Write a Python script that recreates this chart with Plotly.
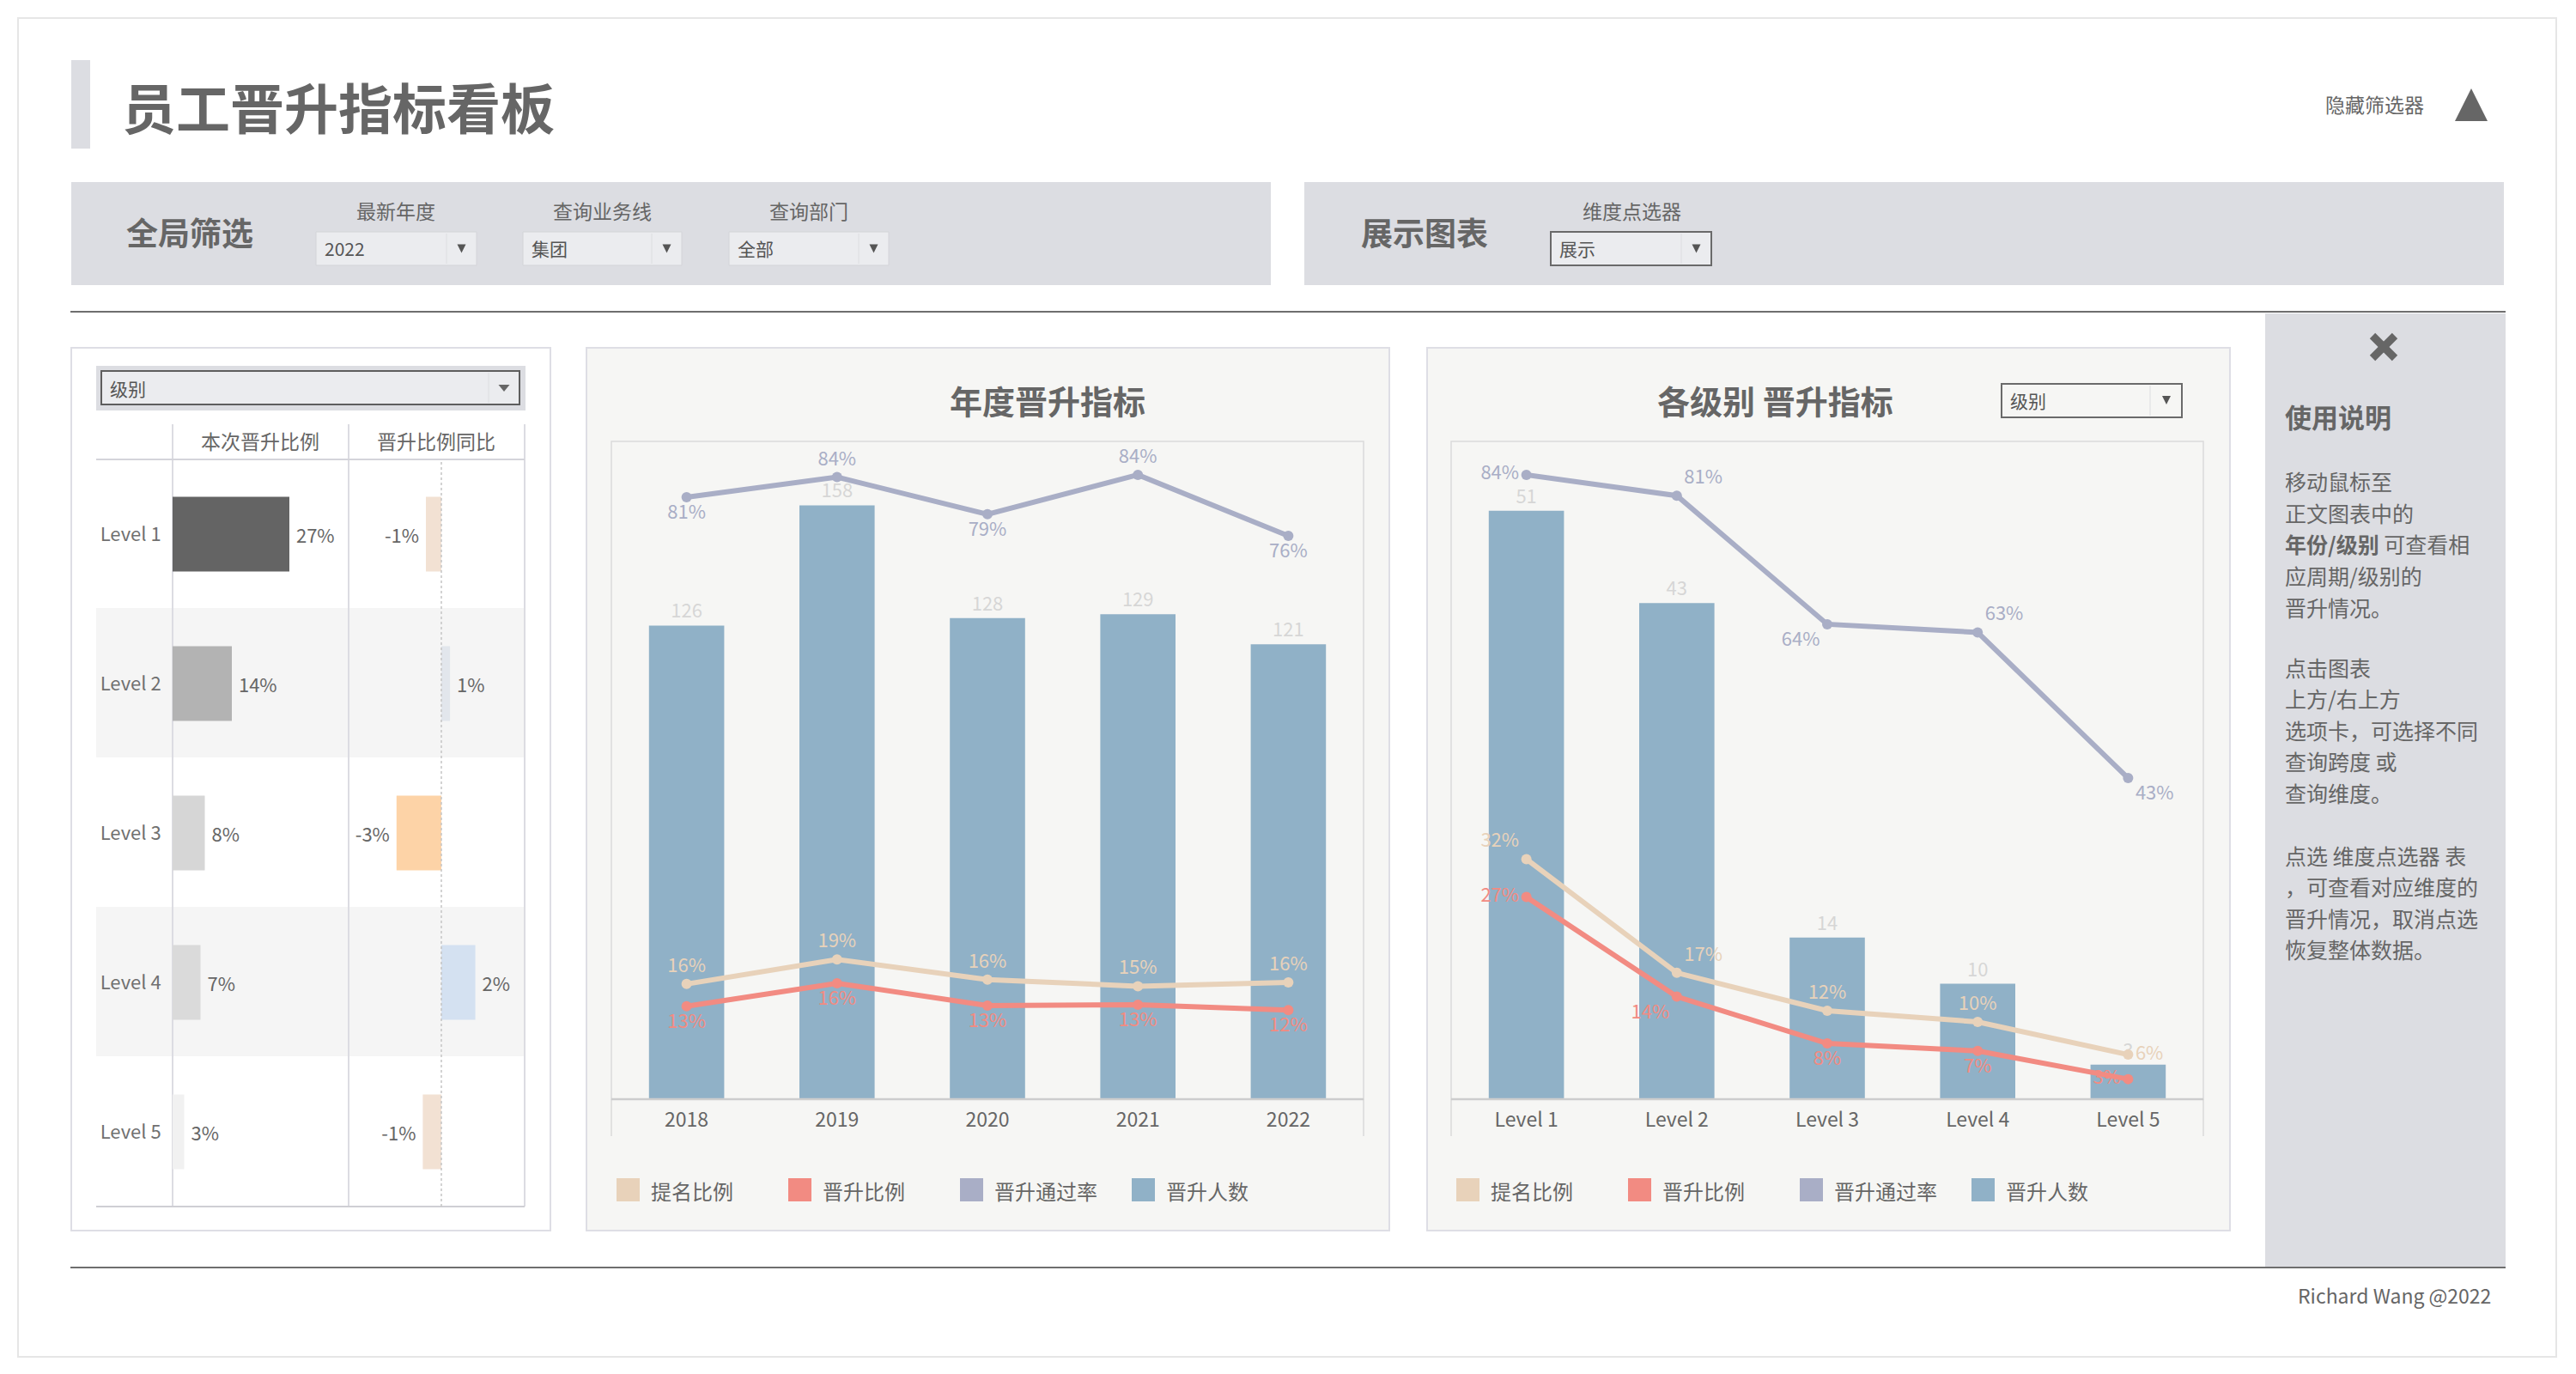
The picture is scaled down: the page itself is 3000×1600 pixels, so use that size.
import plotly.graph_objects as go

W, H = 3000, 1600
FONT = "Noto Sans CJK SC, Noto Sans, sans-serif"
GRAY = "#666666"

# ---------------- data ----------------
years = ["2018", "2019", "2020", "2021", "2022"]
year_promoted = [126, 158, 128, 129, 121]
year_nominate_rate = [0.155, 0.188, 0.161, 0.152, 0.157]
year_promote_rate = [0.125, 0.156, 0.126, 0.127, 0.120]
year_pass_rate = [0.810, 0.837, 0.787, 0.840, 0.758]

levels = ["Level 1", "Level 2", "Level 3", "Level 4", "Level 5"]
level_promoted = [51, 43, 14, 10, 3]
level_nominate_rate = [0.323, 0.170, 0.119, 0.104, 0.060]
level_promote_rate = [0.272, 0.138, 0.075, 0.065, 0.027]
level_pass_rate = [0.840, 0.812, 0.639, 0.628, 0.432]
level_yoy = [-0.010, 0.0056, -0.029, 0.022, -0.012]

legend_names = ["提名比例", "晋升比例", "晋升通过率", "晋升人数"]

# ---------------- styles ----------------
C_NOM = "#e8d2ba"
C_PRO = "#f28b82"
C_PASS = "#a9aec6"
C_BAR = "#90b1c7"
legend_colors = [C_NOM, C_PRO, C_PASS, C_BAR]
table_bar_colors = ["#646464", "#b3b3b3", "#d6d6d6", "#dadada", "#f1f1f1"]
yoy_colors = ["#f2e1d3", "#e2e6ec", "#fdd3a7", "#d4e1f1", "#f2e1d3"]
NBSP = "\u00a0"


def X(px):
    return px / W


def Y(py):
    return 1 - py / H


shapes = []
annotations = []


def rect(x0, y0, x1, y1, fill=None, line=None, lw=0, layer="below"):
    shapes.append(dict(type="rect", xref="paper", yref="paper",
                       x0=X(x0), x1=X(x1), y0=Y(y1), y1=Y(y0),
                       fillcolor=fill or "rgba(0,0,0,0)",
                       line=dict(color=line or "rgba(0,0,0,0)", width=lw),
                       layer=layer))


def seg(x0, y0, x1, y1, color, lw=1, dash="solid", layer="below"):
    shapes.append(dict(type="line", xref="paper", yref="paper",
                       x0=X(x0), x1=X(x1), y0=Y(y0), y1=Y(y1),
                       line=dict(color=color, width=lw, dash=dash), layer=layer))


def tri(cx, cy, w, h, color, up=False):
    if up:
        p = f"M {X(cx - w/2)},{Y(cy + h/2)} L {X(cx + w/2)},{Y(cy + h/2)} L {X(cx)},{Y(cy - h/2)} Z"
    else:
        p = f"M {X(cx - w/2)},{Y(cy - h/2)} L {X(cx + w/2)},{Y(cy - h/2)} L {X(cx)},{Y(cy + h/2)} Z"
    shapes.append(dict(type="path", xref="paper", yref="paper", path=p,
                       fillcolor=color, line=dict(color=color, width=0), layer="above"))


def text(x, y, s, size, color=GRAY, xanchor="left", bold=False):
    if bold:
        s = f"<b>{s}</b>"
    annotations.append(dict(x=X(x), y=Y(y), xref="paper", yref="paper", text=s,
                            showarrow=False, xanchor=xanchor, yanchor="middle",
                            font=dict(family=FONT, size=size, color=color)))


def dropdown(x0, y0, x1, y1, label, border="#d3d4d8", bw=1, fill="#ebecef", div=None):
    rect(x0, y0, x1, y1, fill=fill, line=border, lw=bw)
    if div is None:
        div = x1 - 35
    seg(div, y0 + 2, div, y1 - 2, "#dcdde0", 1)
    tri((div + x1) / 2, (y0 + y1) / 2, 10, 10, "#555555")
    text(x0 + 8, (y0 + y1) / 2, label, 21, "#555555")


# ---------------- page frame / header ----------------
rect(21, 21, 2977, 1580, line="#e6e6e6", lw=2)
rect(83, 70, 105, 173, fill="#dcdde2")
text(140, 122, "员工晋升指标看板", 63, GRAY, bold=True)
text(2825, 121, "隐藏筛选器", 23, GRAY, xanchor="right")
tri(2878, 122, 38, 38, "#666666", up=True)

rect(83, 212, 1480, 332, fill="#dcdde2")
rect(1519, 212, 2916, 332, fill="#dcdde2")
text(145, 270, "全局筛选", 37, GRAY, bold=True)
text(461, 245, "最新年度", 23, GRAY, xanchor="center")
text(701, 245, "查询业务线", 23, GRAY, xanchor="center")
text(942, 245, "查询部门", 23, GRAY, xanchor="center")
dropdown(368, 270, 555, 309, "2022")
dropdown(609, 270, 794, 309, "集团")
dropdown(849, 270, 1035, 309, "全部")
text(1583, 270, "展示图表", 37, GRAY, bold=True)
text(1900, 245, "维度点选器", 23, GRAY, xanchor="center")
dropdown(1806, 270, 1993, 309, "展示", border="#6a6a6a", bw=2)

seg(82, 363, 2918, 363, "#6e6e6e", 2)
seg(82, 1476, 2918, 1476, "#6e6e6e", 2)
text(2903, 1508, "Richard Wang @2022", 23, GRAY, xanchor="right")

# ---------------- help panel ----------------
rect(2638, 365, 2918, 1475, fill="#dcdde2")
seg(2763, 391, 2789, 417, "#666666", 9, layer="above")
seg(2763, 417, 2789, 391, "#666666", 9, layer="above")
text(2659, 484, "使用说明", 31, GRAY, bold=True)
help_lines = [
    (560, "移动鼠标至"), (597, "正文图表中的"), (633, "<b>年份/级别</b> 可查看相"),
    (670, "应周期/级别的"), (707, "晋升情况。"),
    (777, "点击图表"), (813, "上方/右上方"), (850, "选项卡，可选择不同"),
    (886, "查询跨度 或"), (923, "查询维度。"),
    (996, "点选 维度点选器 表"), (1032, "，可查看对应维度的"), (1069, "晋升情况，取消点选"),
    (1105, "恢复整体数据。"),
]
for yy, s in help_lines:
    text(2659, yy, s, 25, GRAY)

# ---------------- left table panel ----------------
rect(83, 405, 641, 1433, fill="#ffffff", line="#dedee5", lw=2)
rect(112, 426, 612, 478, fill="#dcdde2")
rect(118, 432, 605, 471, fill="#ebecef", line="#5e5e5e", lw=2)
seg(569, 434, 569, 469, "#dcdde0", 1)
tri(587, 452, 13, 8, "#666666")
text(126, 452, "级别", 21, "#555555")
rect(112, 708, 611, 882, fill="#f5f5f5")
rect(112, 1056, 611, 1230, fill="#f5f5f5")
for xx in (201, 406, 611):
    seg(xx, 494, xx, 1405, "#dcdce2", 2)
seg(112, 535, 611, 535, "#d4d4da", 2)
seg(112, 1405, 611, 1405, "#cfcfd4", 2)
text(303, 513, "本次晋升比例", 23, GRAY, xanchor="center")
text(508, 513, "晋升比例同比", 23, GRAY, xanchor="center")
shapes.append(dict(type="line", xref="x2", yref="paper", x0=0, x1=0,
                   y0=Y(1405), y1=Y(535), line=dict(color="#c4c4c4", width=1.5, dash="dot"),
                   layer="above"))

# ---------------- chart panels ----------------
for (px0, px1, ax0, ax1, title, tcx) in [
    (683, 1618, 712, 1588, "年度晋升指标", 1220),
    (1662, 2597, 1690, 2566, "各级别 晋升指标", 2067),
]:
    rect(px0, 405, px1, 1433, fill="#f6f6f4", line="#dedee5", lw=2)
    rect(ax0, 514, ax1, 1280, line="#dadada", lw=1.5)
    seg(ax0, 1280, ax1, 1280, "#cdcdcd", 2.5, layer="above")
    seg(ax0, 1280, ax0, 1323, "#dadada", 1.5)
    seg(ax1, 1280, ax1, 1323, "#dadada", 1.5)
    text(tcx, 465, title, 38, GRAY, xanchor="center", bold=True)
    for i, (nm, col) in enumerate(zip(legend_names, legend_colors)):
        lx = ax0 + 6 + 200 * i
        rect(lx, 1372, lx + 27, 1399, fill=col)
        text(lx + 38, 1386, nm, 24, GRAY)

# right chart dropdown
rect(2331, 447, 2541, 486, fill="#f6f6f4", line="#6a6a6a", lw=2)
seg(2504, 449, 2504, 484, "#dcdde0", 1)
tri(2523, 466, 10, 10, "#555555")
text(2339, 466, "级别", 21, "#555555")

# ---------------- traces ----------------
fig = go.Figure()

# table column 1
fig.add_trace(go.Bar(
    x=level_promote_rate, y=levels, orientation="h", xaxis="x", yaxis="y",
    marker=dict(color=table_bar_colors, line=dict(width=0)), width=0.5,
    texttemplate=NBSP + "%{x:.0%}", textposition="outside", cliponaxis=False,
    textfont=dict(family=FONT, size=22, color=GRAY), showlegend=False))
# table column 2
fig.add_trace(go.Bar(
    x=level_yoy, y=levels, orientation="h", xaxis="x2", yaxis="y",
    marker=dict(color=yoy_colors, line=dict(width=0)), width=0.5,
    texttemplate=[("%{x:.0%}" + NBSP) if v < 0 else (NBSP + "%{x:.0%}") for v in level_yoy],
    textposition="outside", cliponaxis=False,
    textfont=dict(family=FONT, size=22, color=GRAY), showlegend=False))


def add_combo(xcats, counts, nom, pro, pas, xa, ya, ya2, pos_nom, pos_pro, pos_pas):
    fig.add_trace(go.Bar(
        x=xcats, y=counts, xaxis=xa, yaxis=ya, width=0.5,
        marker=dict(color=C_BAR, line=dict(width=0)),
        text=counts, textposition="outside", cliponaxis=False,
        textfont=dict(family=FONT, size=22, color="#d6d6d6"), showlegend=False))
    for vals, col, pos in [(pas, C_PASS, pos_pas), (nom, C_NOM, pos_nom), (pro, C_PRO, pos_pro)]:
        fig.add_trace(go.Scatter(
            x=xcats, y=vals, xaxis=xa, yaxis=ya2, mode="lines+markers+text",
            line=dict(color=col, width=6), marker=dict(color=col, size=12),
            texttemplate="%{y:.0%}", textposition=pos, cliponaxis=False,
            textfont=dict(family=FONT, size=22, color=col), showlegend=False))


add_combo(years, year_promoted, year_nominate_rate, year_promote_rate, year_pass_rate,
          "x3", "y3", "y4",
          ["top center"] * 5, ["bottom center"] * 5,
          ["bottom center", "top center", "bottom center", "top center", "bottom center"])
add_combo(levels, level_promoted, level_nominate_rate, level_promote_rate, level_pass_rate,
          "x5", "y5", "y6",
          ["top left", "top right", "top center", "top center", "middle right"],
          ["middle left", "bottom left", "bottom center", "bottom center", "middle left"],
          ["middle left", "top right", "bottom left", "top right", "bottom right"])

hidden = dict(visible=False, showgrid=False, zeroline=False, fixedrange=True)
tick_font = dict(family=FONT, size=23, color=GRAY)
fig.update_layout(
    width=W, height=H, autosize=False,
    margin=dict(l=0, r=0, t=0, b=0, pad=0),
    paper_bgcolor="#ffffff", plot_bgcolor="rgba(0,0,0,0)",
    font=dict(family=FONT, color=GRAY),
    showlegend=False, bargap=0.5,
    xaxis=dict(domain=[X(201), X(406)], range=[0, 0.41], anchor="y", **hidden),
    xaxis2=dict(domain=[X(406), X(611)], range=[-0.06, 0.0539], anchor="y", **hidden),
    yaxis=dict(domain=[Y(1405), Y(535)], type="category", categoryarray=levels,
               range=[4.5, -0.5], anchor="x", showgrid=False, zeroline=False, showline=False,
               ticks="outside", ticklen=8, tickcolor="rgba(0,0,0,0)",
               tickfont=dict(family=FONT, size=22, color="#707070")),
    xaxis3=dict(domain=[X(712), X(1588)], anchor="y3", type="category", showgrid=False,
                zeroline=False, showline=False, ticks="outside", ticklen=3,
                tickcolor="rgba(0,0,0,0)", tickfont=tick_font),
    yaxis3=dict(domain=[Y(1280), Y(514)], range=[0, 175], anchor="x3", **hidden),
    yaxis4=dict(domain=[Y(1280), Y(514)], range=[0, 0.885], overlaying="y3", anchor="x3",
                side="right", **hidden),
    xaxis5=dict(domain=[X(1690), X(2566)], anchor="y5", type="category", showgrid=False,
                zeroline=False, showline=False, ticks="outside", ticklen=3,
                tickcolor="rgba(0,0,0,0)", tickfont=tick_font),
    yaxis5=dict(domain=[Y(1280), Y(514)], range=[0, 57], anchor="x5", **hidden),
    yaxis6=dict(domain=[Y(1280), Y(514)], range=[0, 0.885], overlaying="y5", anchor="x5",
                side="right", **hidden),
    shapes=shapes, annotations=annotations,
)

fig.write_html("out.html", include_plotlyjs=True, config={"displayModeBar": False},
               post_script="document.body.style.margin='0px';document.body.style.overflow='hidden';")
